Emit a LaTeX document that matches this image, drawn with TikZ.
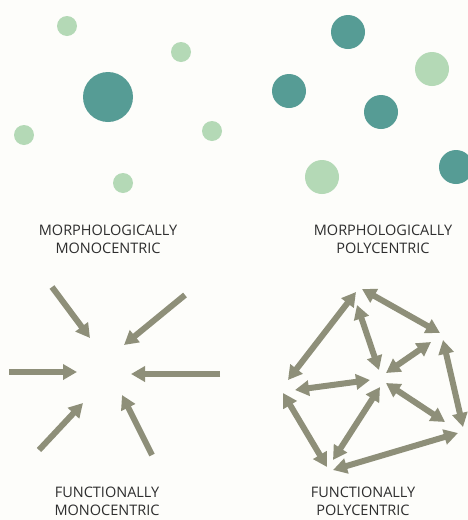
\documentclass[tikz,border=0pt]{standalone}
\usepackage{fontspec}
\setmainfont{Open Sans}
\usetikzlibrary{arrows.meta}
\definecolor{teal1}{HTML}{569C95}
\definecolor{mint}{HTML}{B4D9B6}
\definecolor{olive}{HTML}{8E8F79}
\definecolor{txt}{HTML}{2E2E2E}
\definecolor{bg}{HTML}{FDFDFA}
\tikzset{
  dot/.style={circle, fill=#1, draw=none, inner sep=0pt},
  bigdot/.style={dot=teal1, minimum size=50pt},
  smalldot/.style={dot=mint, minimum size=20pt},
  pdark/.style={dot=teal1, minimum size=34pt},
  plight/.style={dot=mint, minimum size=34pt},
  flow/.style={draw=olive, line width=6pt, -{Triangle[length=14pt,width=15pt]}},
  flow2/.style={draw=olive, line width=6pt, {Triangle[length=14pt,width=15pt]}-{Triangle[length=14pt,width=15pt]}},
  caption/.style={text=txt, font=\fontsize{14.5}{18}\selectfont, align=center, anchor=base, inner sep=0pt}
}
\begin{document}
\begin{tikzpicture}[x=1pt,y=-1pt]
\useasboundingbox (0,0) rectangle (468,520);
\fill[bg] (0,0) rectangle (468,520);
\clip (0,0) rectangle (468,520);
% top left: morphologically monocentric
\node[bigdot] (mc) at (108,97) {};
\node[smalldot] (m1) at (67,26) {};
\node[smalldot] (m2) at (181,52) {};
\node[smalldot] (m3) at (24,135) {};
\node[smalldot] (m4) at (212,131) {};
\node[smalldot] (m5) at (123,183) {};
\node[caption] (t1) at (108,253) {MORPHOLOGICALLY\\MONOCENTRIC};
% top right: morphologically polycentric
\node[pdark] (p1) at (348,32) {};
\node[plight] (p2) at (432,69) {};
\node[pdark] (p3) at (289,91) {};
\node[pdark] (p4) at (381,112) {};
\node[pdark] (p5) at (456,167) {};
\node[plight] (p6) at (322,177) {};
\node[caption] (t2) at (383,253) {MORPHOLOGICALLY\\POLYCENTRIC};
% bottom left: functionally monocentric
\coordinate (f1s) at (52,287);  \coordinate (f1e) at (90,338);
\coordinate (f2s) at (185,295); \coordinate (f2e) at (124,345);
\coordinate (f3s) at (9,372);   \coordinate (f3e) at (77,372);
\coordinate (f4s) at (220,374); \coordinate (f4e) at (131,374);
\coordinate (f5s) at (39,450);  \coordinate (f5e) at (83,403);
\coordinate (f6s) at (152,455); \coordinate (f6e) at (122,395);
\draw[flow] (f1s) -- (f1e);
\draw[flow] (f2s) -- (f2e);
\draw[flow] (f3s) -- (f3e);
\draw[flow] (f4s) -- (f4e);
\draw[flow] (f5s) -- (f5e);
\draw[flow] (f6s) -- (f6e);
\node[caption] (t3) at (107,515) {FUNCTIONALLY\\MONOCENTRIC};
% bottom right: functionally polycentric
\coordinate (ad1) at (356,292); \coordinate (ad2) at (288,380);
\coordinate (ac1) at (357,305); \coordinate (ac2) at (379,370);
\coordinate (ab1) at (362,289); \coordinate (ab2) at (440,333);
\coordinate (bc1) at (431,342); \coordinate (bc2) at (386,373);
\coordinate (bf1) at (443,340); \coordinate (bf2) at (463,427);
\coordinate (dc1) at (295,390); \coordinate (dc2) at (370,380);
\coordinate (de1) at (283,393); \coordinate (de2) at (327,467);
\coordinate (ce1) at (380,387); \coordinate (ce2) at (333,460);
\coordinate (cf1) at (386,383); \coordinate (cf2) at (445,422);
\coordinate (ef1) at (333,470); \coordinate (ef2) at (458,433);
\draw[flow2] (ad1) -- (ad2);
\draw[flow2] (ac1) -- (ac2);
\draw[flow2] (ab1) -- (ab2);
\draw[flow2] (bc1) -- (bc2);
\draw[flow2] (bf1) -- (bf2);
\draw[flow2] (dc1) -- (dc2);
\draw[flow2] (de1) -- (de2);
\draw[flow2] (ce1) -- (ce2);
\draw[flow2] (cf1) -- (cf2);
\draw[flow2] (ef1) -- (ef2);
\node[caption] (t4) at (363,515) {FUNCTIONALLY\\POLYCENTRIC};
\end{tikzpicture}
\end{document}
